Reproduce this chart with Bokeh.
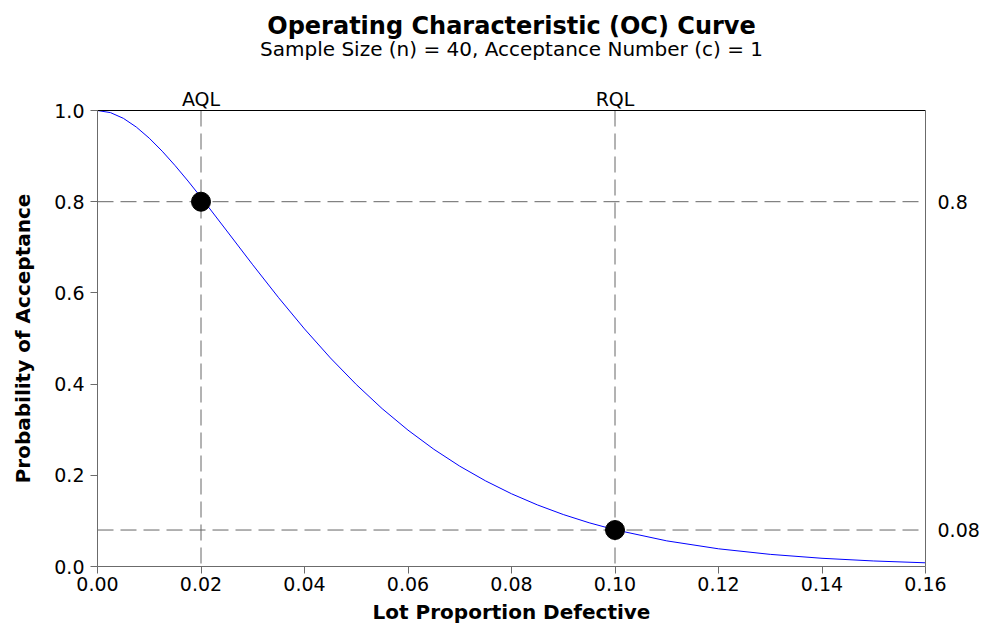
from bokeh.plotting import figure
from bokeh.models import (LinearAxis, FixedTicker, NumeralTickFormatter, Span, Title,
                          Range1d, ColumnDataSource)
from bokeh.embed import file_html
from bokeh.resources import INLINE

# ---- data ----
proportion_defective = [0.0, 0.0025, 0.005, 0.0075, 0.01, 0.0125, 0.015, 0.0175, 0.02, 0.025,
                        0.03, 0.035, 0.04, 0.045, 0.05, 0.055, 0.06, 0.065, 0.07, 0.075,
                        0.08, 0.085, 0.09, 0.095, 0.10, 0.11, 0.12, 0.13, 0.14, 0.15, 0.16]
prob_acceptance = [1.0, 0.9954, 0.9828, 0.9637, 0.9393, 0.9108, 0.8791, 0.8452, 0.8096, 0.7358,
                   0.6616, 0.5894, 0.5210, 0.4574, 0.3991, 0.3462, 0.2990, 0.2570, 0.2200, 0.1877,
                   0.1595, 0.1351, 0.1140, 0.0959, 0.0805, 0.0562, 0.0388, 0.0266, 0.0180, 0.0121,
                   0.0081]
ref_names = ["AQL", "RQL"]
ref_x = [0.02, 0.10]
ref_y = [0.80, 0.08]
ref_y_labels = ["0.8", "0.08"]
x_ticks = [0.0, 0.02, 0.04, 0.06, 0.08, 0.10, 0.12, 0.14, 0.16]
y_ticks = [0.0, 0.2, 0.4, 0.6, 0.8, 1.0]

FONT = "DejaVu Sans"
AXIS_GRAY = "#6b6b6b"
DASH_GRAY = "#666666"

p = figure(width=984, height=634, output_backend="svg", toolbar_location=None,
           x_range=Range1d(0, 0.16), y_range=Range1d(0, 1.0),
           x_axis_location=None, y_axis_location=None, title=None,
           min_border_left=97, min_border_right=59, min_border_top=110, min_border_bottom=68)
p.outline_line_color = None
p.xgrid.visible = False
p.ygrid.visible = False
p.background_fill_color = "white"
p.border_fill_color = "white"

# bottom axis
xaxis = LinearAxis(ticker=FixedTicker(ticks=x_ticks),
                   formatter=NumeralTickFormatter(format="0.00"),
                   axis_label="Lot Proportion Defective")
# left axis
yaxis = LinearAxis(ticker=FixedTicker(ticks=y_ticks),
                   formatter=NumeralTickFormatter(format="0.0"),
                   axis_label="Probability of Acceptance")
for ax in (xaxis, yaxis):
    ax.axis_line_color = AXIS_GRAY
    ax.major_tick_line_color = AXIS_GRAY
    ax.major_tick_in = 0
    ax.major_tick_out = 7
    ax.minor_tick_line_color = None
    ax.major_label_text_font = FONT
    ax.major_label_text_font_size = "19px"
    ax.major_label_text_color = "black"
    ax.axis_label_text_font = FONT
    ax.axis_label_text_font_size = "20px"
    ax.axis_label_text_font_style = "bold"
    ax.axis_label_text_color = "black"
xaxis.major_label_standoff = 3
xaxis.axis_label_standoff = 6
yaxis.major_label_standoff = 6
yaxis.axis_label_standoff = 16
p.add_layout(xaxis, "below")
p.add_layout(yaxis, "left")

# right axis with reference levels
raxis = LinearAxis(ticker=FixedTicker(ticks=ref_y),
                   major_label_overrides={v: s for v, s in zip(ref_y, ref_y_labels)})
raxis.axis_line_color = AXIS_GRAY
raxis.major_tick_line_color = None
raxis.minor_tick_line_color = None
raxis.major_tick_in = 0
raxis.major_tick_out = 0
raxis.major_label_standoff = 12
raxis.major_label_text_font = FONT
raxis.major_label_text_font_size = "19px"
raxis.major_label_text_color = "black"
p.add_layout(raxis, "right")

# top axis with AQL / RQL labels (blank axis label used as spacer)
taxis = LinearAxis(ticker=FixedTicker(ticks=ref_x),
                   major_label_overrides={v: s for v, s in zip(ref_x, ref_names)},
                   axis_label=" ")
taxis.axis_line_color = "black"
taxis.major_tick_line_color = None
taxis.minor_tick_line_color = None
taxis.major_tick_in = 0
taxis.major_tick_out = 0
taxis.major_label_standoff = 1
taxis.major_label_text_font = FONT
taxis.major_label_text_font_size = "19px"
taxis.major_label_text_color = "black"
taxis.axis_label_text_font_size = "1px"
taxis.axis_label_standoff = 20
p.add_layout(taxis, "above")

p.add_layout(Title(text="Sample Size (n) = 40, Acceptance Number (c) = 1", align="center",
                   text_font=FONT, text_font_size="20px", text_font_style="normal",
                   text_color="black", standoff=0), "above")
p.add_layout(Title(text="Operating Characteristic (OC) Curve", align="center",
                   text_font=FONT, text_font_size="24px", text_font_style="bold",
                   text_color="black", standoff=-11), "above")

# reference dashed lines
for xv in ref_x:
    p.add_layout(Span(location=xv, dimension="height", line_color=DASH_GRAY,
                      line_width=1, line_dash="16 7", level="underlay"))
for yv in ref_y:
    p.add_layout(Span(location=yv, dimension="width", line_color=DASH_GRAY,
                      line_width=1, line_dash="16 7", level="underlay"))

# OC curve
src = ColumnDataSource(data=dict(x=proportion_defective, y=prob_acceptance))
p.line("x", "y", source=src, line_color="#0000ff", line_width=1)

# AQL / RQL points
p.scatter(ref_x, ref_y, size=19, fill_color="black", line_color="black")

open("out.html", "w").write(file_html(p, INLINE))
